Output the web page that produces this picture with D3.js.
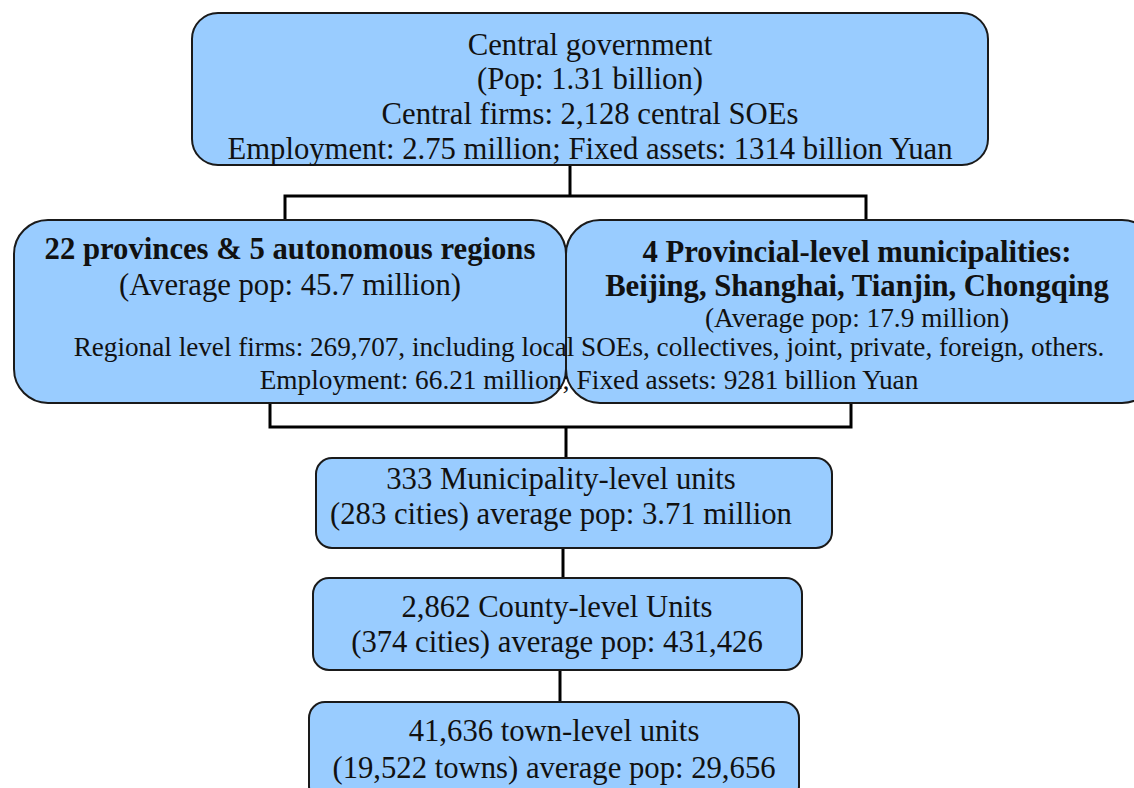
<!DOCTYPE html>
<html>
<head>
<meta charset="utf-8">
<script src="https://cdn.jsdelivr.net/npm/d3@7"></script>
<style>
  body { margin: 0; background: #fff; }
  svg { display: block; }
</style>
</head>
<body>
<svg id="chart"></svg>
<script>
// node texts (data)
var centralLines = ["Central government", "(Pop: 1.31 billion)", "Central firms: 2,128 central SOEs",
    "Employment: 2.75 million; Fixed assets: 1314 billion Yuan"];
var provinceLines = ["22 provinces & 5 autonomous regions", "(Average pop: 45.7 million)"];
var municipalLines = ["4 Provincial-level municipalities:", "Beijing, Shanghai, Tianjin, Chongqing",
    "(Average pop: 17.9 million)"];
var regionalLines = ["Regional level firms: 269,707, including local SOEs, collectives, joint, private, foreign, others.",
    "Employment: 66.21 million; Fixed assets: 9281 billion Yuan"];
var cityLines = ["333 Municipality-level units", "(283 cities) average pop: 3.71 million"];
var countyLines = ["2,862 County-level Units", "(374 cities) average pop: 431,426"];
var townLines = ["41,636 town-level units", "(19,522 towns) average pop: 29,656"];

var svgWidth = 1134, svgHeight = 788;
var fill = "#99ccff";

var svg = d3.select('#chart')
    .attr('width', svgWidth)
    .attr('height', svgHeight);

// layout of boxes
var boxes = [
    { x: 192, y: 13, w: 796, h: 152, r: 26 },
    { x: 14, y: 220, w: 552, h: 183, r: 34 },
    { x: 566, y: 220, w: 590, h: 183, r: 34 },
    { x: 316, y: 458, w: 516, h: 90, r: 16 },
    { x: 313, y: 578, w: 489, h: 92, r: 16 },
    { x: 309, y: 702, w: 490, h: 100, r: 16 }
];

// connectors
var lines = [
    [[570, 165], [570, 196]],
    [[285, 220], [285, 196], [866, 196], [866, 220]],
    [[270, 403], [270, 427], [851, 427], [851, 403]],
    [[566, 427], [566, 458]],
    [[563, 548], [563, 578]],
    [[560, 670], [560, 702]]
];

var lineGen = d3.line();

svg.selectAll('path.link')
    .data(lines)
    .enter()
    .append('path')
    .attr('class', 'link')
    .attr('d', lineGen)
    .attr('fill', 'none')
    .attr('stroke', '#000')
    .attr('stroke-width', 3);

svg.selectAll('rect.box')
    .data(boxes)
    .enter()
    .append('rect')
    .attr('class', 'box')
    .attr('x', function (d) { return d.x; })
    .attr('y', function (d) { return d.y; })
    .attr('width', function (d) { return d.w; })
    .attr('height', function (d) { return d.h; })
    .attr('rx', function (d) { return d.r; })
    .attr('ry', function (d) { return d.r; })
    .attr('fill', fill)
    .attr('stroke', '#1a1a1a')
    .attr('stroke-width', 2);

// text blocks: lines, centre x, baselines, font sizes, weight
var big = 30.7, mid = 27.3;
var blocks = [
    { lines: centralLines, cx: 590, ys: [55, 89, 124, 159], size: [big, big, big, big], bold: false },
    { lines: provinceLines, cx: 290, ys: [259, 295], size: [big, big], bold: [true, false] },
    { lines: municipalLines.slice(0, 2), cx: 857, ys: [262, 296], size: [big, big], bold: true },
    { lines: municipalLines.slice(2), cx: 857, ys: [327], size: [mid], bold: false },
    { lines: regionalLines, cx: 589, ys: [356, 389], size: [27.2, mid], bold: false },
    { lines: cityLines, cx: 561, ys: [489, 524], size: [big, big], bold: false },
    { lines: countyLines, cx: 557, ys: [617, 652], size: [big, big], bold: false },
    { lines: townLines, cx: 554, ys: [741, 778], size: [big, big], bold: false }
];

blocks.forEach(function (b) {
    svg.append('g')
        .selectAll('text')
        .data(b.lines)
        .enter()
        .append('text')
        .attr('x', b.cx)
        .attr('y', function (d, i) { return b.ys[i]; })
        .attr('text-anchor', 'middle')
        .attr('font-family', '"Liberation Serif", "Times New Roman", serif')
        .attr('font-size', function (d, i) { return b.size[i]; })
        .attr('font-weight', function (d, i) {
            var bw = Array.isArray(b.bold) ? b.bold[i] : b.bold;
            return bw ? 'bold' : 'normal';
        })
        .attr('fill', '#111')
        .text(function (d) { return d; });
});
</script>
</body>
</html>
